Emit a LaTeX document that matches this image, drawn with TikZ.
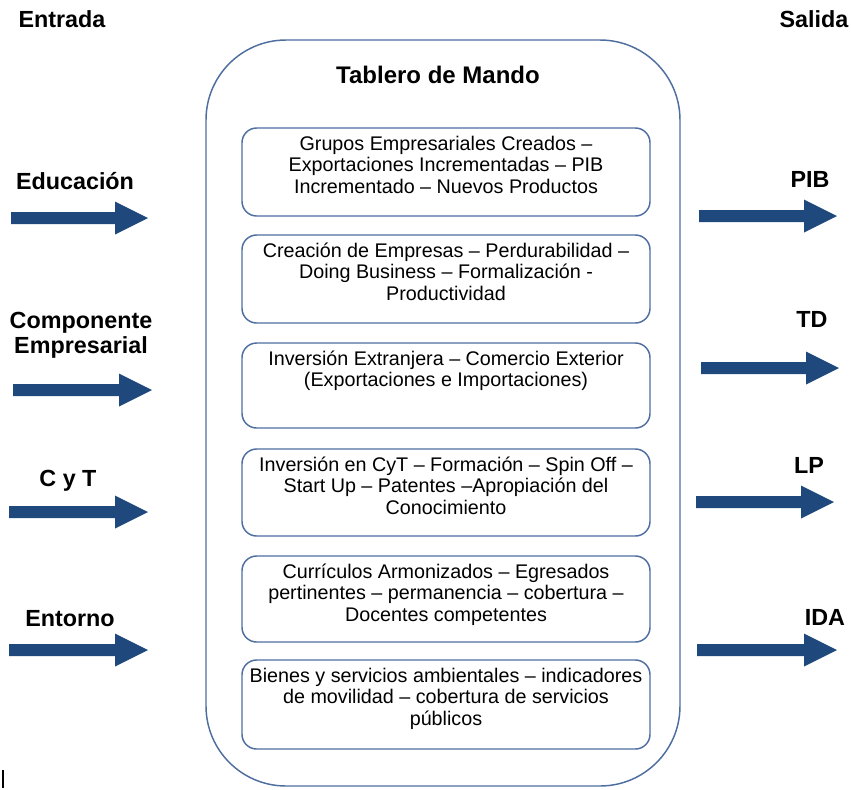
\documentclass[tikz,border=0pt]{standalone}
\usepackage{fontspec}
\setmainfont{Liberation Sans}
\definecolor{arrowblue}{RGB}{31,73,125}
\definecolor{boxline}{RGB}{79,110,160}
\newcommand\fatarrow[3]{\fill[arrowblue] (#1,#3-6) -- (#2-33,#3-6) -- (#2-33,#3-16.5) -- (#2,#3) -- (#2-33,#3+16.5) -- (#2-33,#3+6) -- (#1,#3+6) -- cycle;}
\tikzset{
  outerbox/.style={draw=boxline, line width=1.1pt, rounded corners=60pt},
  innerbox/.style={draw=boxline, line width=1.1pt, rounded corners=11pt},
  boxtext/.style={anchor=north, inner sep=0pt, align=center, font=\fontsize{14.8}{16.1}\selectfont},
  lbl/.style={anchor=base, inner sep=0pt, font=\fontsize{17.5}{18.75}\selectfont\bfseries},
  lbltwo/.style={anchor=north, inner sep=0pt, align=center, font=\fontsize{17.5}{18.75}\selectfont\bfseries},
  title/.style={anchor=base, inner sep=0pt, font=\fontsize{18}{21}\selectfont\bfseries}
}
\begin{document}
\begin{tikzpicture}[x=0.75pt, y=-0.75pt]
\useasboundingbox (0,0) rectangle (851,790);
% outer panel
\draw[outerbox] (206,40) rectangle (680,786);
\node[title] (tab) at (438,83) {Tablero de Mando};
% inner boxes
\draw[innerbox] (242,128) rectangle (650,216);
\draw[innerbox] (242,235) rectangle (650,323);
\draw[innerbox] (242,343) rectangle (650,428);
\draw[innerbox] (242,449) rectangle (650,536);
\draw[innerbox] (242,556) rectangle (650,642);
\draw[innerbox] (242,660) rectangle (650,749);
\node[boxtext] (b1) at (446,135) {\strut Grupos Empresariales Creados –\\Exportaciones Incrementadas – PIB\\Incrementado – Nuevos Productos};
\node[boxtext] (b2) at (446,242) {\strut Creación de Empresas – Perdurabilidad –\\Doing Business – Formalización -\\Productividad};
\node[boxtext] (b3) at (446,350) {\strut Inversión Extranjera – Comercio Exterior\\(Exportaciones e Importaciones)};
\node[boxtext] (b4) at (446,456) {\strut Inversión en CyT – Formación – Spin Off –\\Start Up – Patentes –Apropiación del\\Conocimiento};
\node[boxtext] (b5) at (446,563) {\strut Currículos Armonizados – Egresados\\pertinentes – permanencia – cobertura –\\Docentes competentes};
\node[boxtext] (b6) at (446,667) {\strut Bienes y servicios ambientales – indicadores\\de movilidad – cobertura de servicios\\públicos};
% headings
\node[lbl] (ent) at (62,27) {Entrada};
\node[lbl] (sal) at (814,27) {Salida};
% input labels and arrows
\node[lbl] (edu) at (75,189) {Educación};
\node[lbltwo] (comp) at (81,310.5) {\strut Componente\\Empresarial};
\node[lbl] (cyt) at (68,486) {C y T};
\node[lbl] (ento) at (70,626) {Entorno};
\fatarrow{11}{148}{218}
\fatarrow{13}{152}{390}
\fatarrow{9}{148}{512}
\fatarrow{9}{148}{650}
% output labels and arrows
\node[lbl] (pib) at (810,187) {PIB};
\node[lbl] (td) at (812,327) {TD};
\node[lbl] (lp) at (809,473) {LP};
\node[lbl] (ida) at (825,625) {IDA};
\fatarrow{699}{837}{216}
\fatarrow{701}{839}{368}
\fatarrow{696}{834}{502}
\fatarrow{697}{837}{650}
% stray cursor mark
\draw[black, line width=0.8pt] (3,770) -- (3,788);
\end{tikzpicture}
\end{document}
